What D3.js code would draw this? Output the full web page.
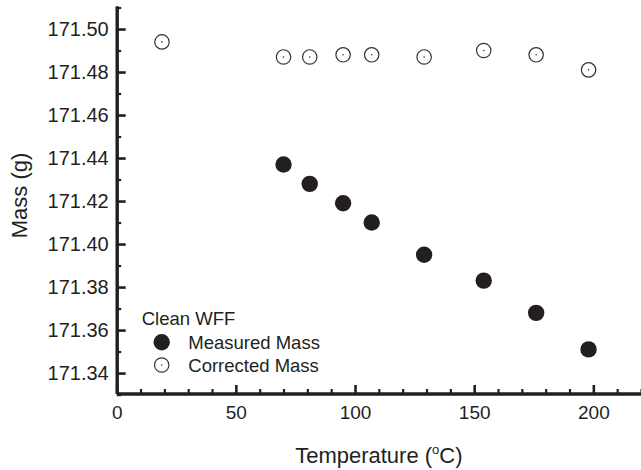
<!DOCTYPE html>
<html>
<head>
<meta charset="utf-8">
<script src="https://cdn.jsdelivr.net/npm/d3@7"></script>
<style>
  body { margin: 0; background: #fff; }
  svg { display: block; font-family: 'Liberation Sans', Arial, sans-serif; }
</style>
</head>
<body>
<div id="chart"></div>
<script>
// data
var temps = [70, 81, 95, 107, 129, 154, 176, 198]
var measuredMass = [171.437, 171.428, 171.419, 171.410, 171.395, 171.383, 171.368, 171.351]
var correctedTemps = [19, 70, 81, 95, 107, 129, 154, 176, 198]
var correctedMass = [171.494, 171.487, 171.487, 171.488, 171.488, 171.487, 171.490, 171.488, 171.481]

var xMajor = [0, 50, 100, 150, 200]
var yMajor = [171.34, 171.36, 171.38, 171.40, 171.42, 171.44, 171.46, 171.48, 171.50]

var W = 641
var H = 470
var INK = '#231f20'

var svg = d3.select('#chart').append('svg')
  .attr('width', W)
  .attr('height', H)

var x = d3.scaleLinear().domain([0, 220]).range([116.7, 641])
var y = d3.scaleLinear().domain([171.3305, 171.5107]).range([393.5, 6])

var xMinor = d3.range(0, 221, 10).filter(function (d) { return d % 50 !== 0 })
var yMinor = d3.range(171.33, 171.515, 0.01)
  .map(function (d) { return +d.toFixed(2) })
  .filter(function (d) { return yMajor.indexOf(d) < 0 })

function styleAxis (g, width) {
  g.select('.domain').attr('stroke', INK).attr('stroke-width', 3)
  g.selectAll('.tick line').attr('stroke', INK).attr('stroke-width', width)
  g.selectAll('.tick text').attr('fill', INK)
}

// x axis: minor then major, ticks point inward
svg.append('g')
  .attr('transform', 'translate(0,' + y.range()[0] + ')')
  .call(d3.axisBottom(x).tickValues(xMinor).tickSize(-4.5).tickSizeOuter(0).tickFormat(''))
  .call(styleAxis, 2.2)

svg.append('g')
  .attr('transform', 'translate(0,' + y.range()[0] + ')')
  .call(d3.axisBottom(x).tickValues(xMajor).tickSize(-8.5).tickSizeOuter(0).tickPadding(12)
    .tickFormat(d3.format('d')))
  .attr('font-size', 19)
  .attr('font-family', null)
  .call(styleAxis, 2.6)

// y axis
svg.append('g')
  .attr('transform', 'translate(' + x.range()[0] + ',0)')
  .call(d3.axisLeft(y).tickValues(yMinor).tickSize(-4.5).tickSizeOuter(0).tickFormat(''))
  .call(styleAxis, 2.2)

svg.append('g')
  .attr('transform', 'translate(' + x.range()[0] + ',0)')
  .call(d3.axisLeft(y).tickValues(yMajor).tickSize(-9).tickSizeOuter(0).tickPadding(8)
    .tickFormat(d3.format('.2f')))
  .attr('font-size', 20)
  .attr('font-family', null)
  .call(styleAxis, 2.6)

// axis titles
svg.append('text')
  .attr('transform', 'translate(27,195.5) rotate(-90)')
  .attr('text-anchor', 'middle')
  .attr('font-size', 22)
  .attr('fill', INK)
  .text('Mass (g)')

var xt = svg.append('text')
  .attr('x', (x.range()[0] + x.range()[1]) / 2)
  .attr('y', 463)
  .attr('text-anchor', 'middle')
  .attr('font-size', 22)
  .attr('fill', INK)
xt.append('tspan').text('Temperature (')
xt.append('tspan').attr('font-size', 13).attr('dy', -9).text('o')
xt.append('tspan').attr('dy', 9).text('C)')

// corrected mass: open circles with a centre dot
var corrected = correctedTemps.map(function (t, i) { return { t: t, m: correctedMass[i] } })
var cg = svg.append('g').selectAll('g').data(corrected).enter().append('g')
  .attr('transform', function (d) { return 'translate(' + x(d.t) + ',' + y(d.m) + ')' })
cg.append('circle').attr('r', 7.2).attr('fill', '#fff').attr('stroke', '#333').attr('stroke-width', 1.2)
cg.append('circle').attr('r', 0.8).attr('fill', '#333')

// measured mass: filled circles
var measured = temps.map(function (t, i) { return { t: t, m: measuredMass[i] } })
svg.append('g').selectAll('circle').data(measured).enter().append('circle')
  .attr('cx', function (d) { return x(d.t) })
  .attr('cy', function (d) { return y(d.m) })
  .attr('r', 8.2)
  .attr('fill', INK)

// legend
var legend = svg.append('g').attr('fill', INK).attr('font-size', 18.5)
legend.append('text').attr('x', 141.7).attr('y', 325).text('Clean WFF')
legend.append('circle').attr('cx', 161.7).attr('cy', 342.3).attr('r', 8.2).attr('fill', INK)
legend.append('text').attr('x', 188.3).attr('y', 348.6).text('Measured Mass')
legend.append('circle').attr('cx', 161.7).attr('cy', 365).attr('r', 7.2)
  .attr('fill', '#fff').attr('stroke', '#333').attr('stroke-width', 1.2)
legend.append('circle').attr('cx', 161.7).attr('cy', 365).attr('r', 0.8).attr('fill', '#333')
legend.append('text').attr('x', 188.3).attr('y', 371.7).text('Corrected Mass')
</script>
</body>
</html>
